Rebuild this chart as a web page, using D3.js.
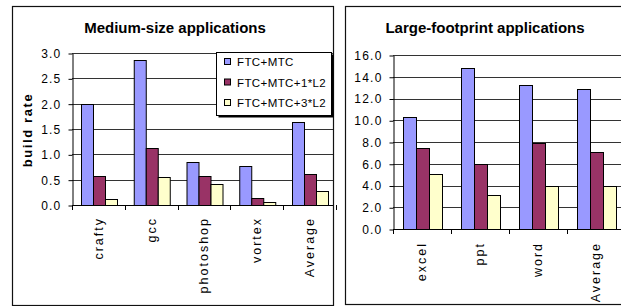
<!DOCTYPE html>
<html><head><meta charset="utf-8">
<script src="https://cdn.jsdelivr.net/npm/d3@7"></script>
<style>
body{margin:0;background:#fff}
svg{display:block}
text{font-family:"Liberation Sans",Arial,sans-serif;fill:#000}
</style></head>
<body><svg id="c" width="621" height="306"></svg>
<script>
const seriesNames = ["FTC+MTC", "FTC+MTC+1*L2", "FTC+MTC+3*L2"];
const mediumCategories = ["crafty", "gcc", "photoshop", "vortex", "Average"];
const mediumFTC  = [2.00, 2.86, 0.84, 0.77, 1.64];
const mediumL2x1 = [0.58, 1.13, 0.58, 0.13, 0.61];
const mediumL2x3 = [0.12, 0.55, 0.42, 0.06, 0.28];
const mediumTicks = [0, 0.5, 1.0, 1.5, 2.0, 2.5, 3.0];
const largeCategories = ["excel", "ppt", "word", "Average"];
const largeFTC  = [10.27, 14.78, 13.24, 12.85];
const largeL2x1 = [7.42, 5.98, 7.94, 7.10];
const largeL2x3 = [5.10, 3.10, 4.00, 4.00];
const largeTicks = [0, 2, 4, 6, 8, 10, 12, 14, 16];
const mediumTitle = "Medium-size applications";
const largeTitle = "Large-footprint applications";
const yLabel = "build rate";

const colors = ["#9999FF", "#993366", "#FFFFCC"];
const svg = d3.select("#c");
const fmt = d3.format(".1f");

function panel(o) {
  const g = svg.append("g");
  g.append("rect").attr("x", o.box[0] + 0.5).attr("y", o.box[1] + 0.5)
    .attr("width", o.box[2] - o.box[0]).attr("height", o.box[3] - o.box[1])
    .attr("fill", "#fff").attr("stroke", "#111").attr("stroke-width", 1.2);
  g.append("text").attr("x", o.titleX).attr("y", 33).attr("text-anchor", "middle")
    .style("font-weight", "bold").style("font-size", "15px").text(o.title);

  const x0 = d3.scaleBand().domain(o.categories).range([o.left, o.right]).padding(0);
  const bw = x0.bandwidth();
  const x1 = d3.scaleBand().domain(seriesNames).range([0.17 * bw, 0.85 * bw]).padding(0);
  const y = d3.scaleLinear().domain([0, o.ticks[o.ticks.length - 1]]).range([o.bottom, o.top]);

  g.append("g").selectAll("line").data(o.ticks.filter(t => t > 0)).join("line")
    .attr("x1", o.left).attr("x2", o.gridRight)
    .attr("y1", d => Math.round(y(d)) + 0.5).attr("y2", d => Math.round(y(d)) + 0.5)
    .attr("stroke", "#333").attr("stroke-width", 1);

  const rows = o.categories.map((c, i) => ({c, vals: o.series.map(s => s[i])}));
  const grp = g.append("g").selectAll("g").data(rows).join("g")
    .attr("transform", d => `translate(${x0(d.c)},0)`);
  grp.selectAll("rect").data(d => d.vals.map((v, k) => ({v, k}))).join("rect")
    .attr("x", d => Math.round(x1(seriesNames[d.k])) + 0.5)
    .attr("y", d => Math.round(y(d.v)) + 0.5)
    .attr("width", Math.round(x1.bandwidth()))
    .attr("height", d => Math.round(y(0)) - Math.round(y(d.v)))
    .attr("fill", d => colors[d.k]).attr("stroke", "#000").attr("stroke-width", 1);

  const ya = g.append("g").attr("transform", `translate(${o.left + 0.5},0.5)`)
    .call(d3.axisLeft(y).tickValues(o.ticks).tickFormat(fmt).tickSize(4).tickSizeOuter(0).tickPadding(7));
  ya.select(".domain").attr("stroke", "#000");
  ya.selectAll(".tick line").attr("stroke", "#000");
  ya.selectAll("text").style("font-size", "12px").style("letter-spacing", "1.2px").attr("fill", "#000");

  g.append("line").attr("x1", o.left).attr("x2", o.gridRight)
    .attr("y1", Math.round(y(0)) + 0.5).attr("y2", Math.round(y(0)) + 0.5).attr("stroke", "#000");
  const bounds = o.categories.map(c => x0(c)).concat([o.right]);
  g.append("g").selectAll("line").data(bounds).join("line")
    .attr("x1", d => Math.round(d) + 0.5).attr("x2", d => Math.round(d) + 0.5)
    .attr("y1", Math.round(y(0))).attr("y2", Math.round(y(0)) + 5).attr("stroke", "#000");
  const xa = g.append("g").attr("transform", `translate(0,${Math.round(y(0))})`)
    .call(d3.axisBottom(x0).tickSize(0));
  xa.select(".domain").remove();
  xa.selectAll("text").attr("transform", "rotate(-90)").attr("text-anchor", "end")
    .attr("x", -o.labelGap).attr("y", 0).attr("dy", "0.35em")
    .style("font-size", "12.5px").style("letter-spacing", "2px").attr("fill", "#000");
  return {g, x0, y};
}

panel({
  box: [12, 6, 333, 305], title: mediumTitle, titleX: 175,
  categories: mediumCategories, series: [mediumFTC, mediumL2x1, mediumL2x3],
  ticks: mediumTicks, left: 72, right: 335.75, gridRight: 333, top: 53, bottom: 205, labelGap: 12
});
panel({
  box: [345, 6, 640, 304], title: largeTitle, titleX: 485,
  categories: largeCategories, series: [largeFTC, largeL2x1, largeL2x3],
  ticks: largeTicks, left: 393, right: 625, gridRight: 621, top: 55, bottom: 229, labelGap: 13
});

svg.append("text").attr("transform", "translate(32,130) rotate(-90)").attr("text-anchor", "middle")
  .style("font-weight", "bold").style("font-size", "13px").style("letter-spacing", "1.6px").text(yLabel);

const lg = svg.append("g");
lg.append("rect").attr("x", 218.5).attr("y", 54.5).attr("width", 115).attr("height", 63)
  .attr("fill", "#000");
lg.append("rect").attr("x", 216.5).attr("y", 52.5).attr("width", 115).attr("height", 63)
  .attr("fill", "#fff").attr("stroke", "#000").attr("stroke-width", 1);
const items = lg.selectAll("g.it").data(seriesNames).join("g").attr("class", "it")
  .attr("transform", (d, i) => `translate(224,${62 + i * 20.5})`);
items.append("rect").attr("x", 0.5).attr("y", -3.5).attr("width", 6).attr("height", 6)
  .attr("fill", (d, i) => colors[i]).attr("stroke", "#000");
items.append("text").attr("x", 13).attr("y", 0).attr("dy", "0.36em")
  .style("font-size", "11.5px").style("letter-spacing", "0.4px").text(d => d);
</script>
</body></html>
